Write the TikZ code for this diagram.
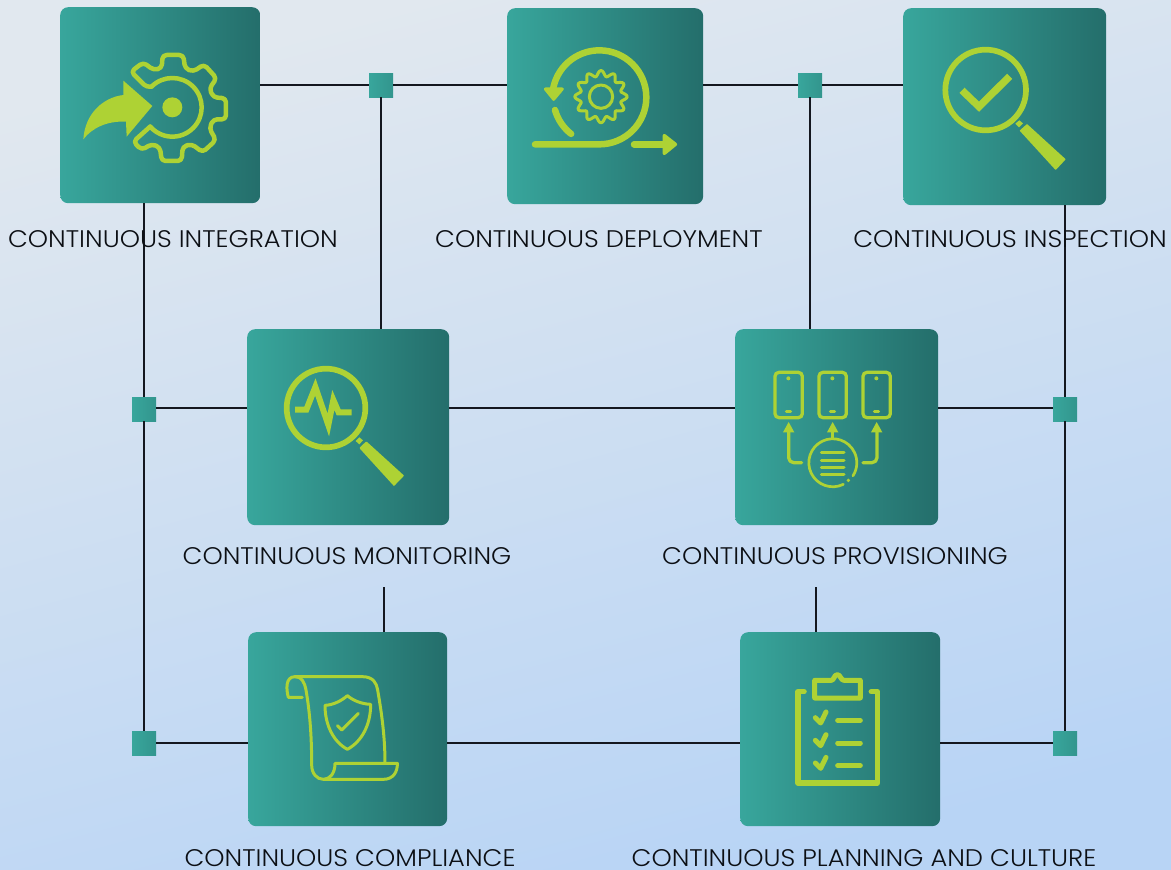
\documentclass[tikz,border=0pt]{standalone}
\usepackage{fontspec}
\setmainfont{Poppins}[UprightFont=* Light,FakeStretch=1.072]
\definecolor{cardL}{HTML}{38A69C}
\definecolor{cardR}{HTML}{246E6B}
\definecolor{lime}{HTML}{AED234}
\definecolor{wire}{HTML}{14171F}
\definecolor{txt}{HTML}{0C0F14}
\definecolor{bgTop}{HTML}{E1E8EF}
\definecolor{bgBot}{HTML}{B8D4F5}
\tikzset{
  card/.style={rectangle,rounded corners=8pt,left color=cardL,right color=cardR,minimum width=#1,inner sep=0pt,anchor=north west},
  junction/.style={rectangle,left color=cardL,right color=cardL!70!cardR,minimum width=24pt,minimum height=24pt,inner sep=0pt},
  caption/.style={text=txt,font=\fontsize{24}{28}\selectfont,inner sep=0pt},
  wireline/.style={draw=wire,line width=1.8pt},
  ink/.style={draw=lime,line cap=round,line join=round,fill=none},
  solid ink/.style={draw=lime,fill=lime,line join=round},
}
\begin{document}
\begin{tikzpicture}[x=1pt,y=1pt,yscale=-1]
\useasboundingbox (0,0) rectangle (1171,870);
\shade[shading=axis,top color=bgTop,bottom color=bgBot,shading angle=15] (0,0) rectangle (1171,870);

% cards
\node[card=200pt,minimum height=196pt] (ci) at (60,7) {};
\node[card=196pt,minimum height=196pt] (cd) at (507,8) {};
\node[card=203pt,minimum height=197pt] (ins) at (903,8) {};
\node[card=202pt,minimum height=196pt] (mon) at (247,329) {};
\node[card=203pt,minimum height=196pt] (pro) at (735,329) {};
\node[card=199pt,minimum height=194pt] (com) at (248,632) {};
\node[card=200pt,minimum height=194pt] (pla) at (740,632) {};

% junctions
\node[junction] (j1) at (381,85) {};
\node[junction] (j2) at (810,85) {};
\node[junction] (j3) at (144,409) {};
\node[junction] (j4) at (1065,409) {};
\node[junction] (j5) at (144,743) {};
\node[junction] (j6) at (1065,743) {};
\coordinate (s1) at (384,587);
\coordinate (s2) at (816,587);
\coordinate (rowb) at (0,408);
\coordinate (ciout) at (144,203);
\coordinate (insout) at (1065,205);

% connectors
\draw[wireline] (ci.east |- j1) -- (j1);
\draw[wireline] (j1) -- (cd.west |- j1);
\draw[wireline] (cd.east |- j2) -- (j2);
\draw[wireline] (j2) -- (ins.west |- j2);
\draw[wireline] (j1) -- (j1 |- mon.north);
\draw[wireline] (j2) -- (j2 |- pro.north);
\draw[wireline] (ciout) -- (j3);
\draw[wireline] (j3) -- (j5);
\draw[wireline] (insout) -- (j4);
\draw[wireline] (j4) -- (j6);
\draw[wireline] (j3.east |- rowb) -- (mon.west |- rowb);
\draw[wireline] (mon.east |- rowb) -- (pro.west |- rowb);
\draw[wireline] (pro.east |- rowb) -- (j4.west |- rowb);
\draw[wireline] (j5) -- (com.west |- j5);
\draw[wireline] (com.east |- j5) -- (pla.west |- j5);
\draw[wireline] (pla.east |- j6) -- (j6);
\draw[wireline] (s1) -- (s1 |- com.north);
\draw[wireline] (s2) -- (s2 |- pla.north);

% captions
\node[caption] (tci) at (173,239) {CONTINUOUS INTEGRATION};
\node[caption] (tcd) at (599,239) {CONTINUOUS DEPLOYMENT};
\node[caption] (tin) at (1010,239) {CONTINUOUS INSPECTION};
\node[caption] (tmo) at (347,556) {CONTINUOUS MONITORING};
\node[caption] (tpr) at (835,556) {CONTINUOUS PROVISIONING};
\node[caption] (tco) at (350,858) {CONTINUOUS COMPLIANCE};
\node[caption] (tpl) at (864,858) {CONTINUOUS PLANNING AND CULTURE};

% icon: integration
\begin{scope}[shift={(50,0)},scale=1/3]
\fill[lime] (100,418) .. controls (105,340) and (160,292) .. (220,285) -- (220,242) -- (307,318) -- (230,410) -- (228,365) .. controls (170,362) and (125,385) .. (100,418) -- cycle;
\fill[lime] (367,322) circle[radius=30];
\draw[ink,line width=4.5pt,rounded corners=4pt] (300.6,379.7) -- (250,425) -- (275,450) -- (305,432) -- (330,442) -- (335,483) -- (395,483) -- (398,440) -- (425,432) -- (458,457) -- (498,420) -- (478,385) -- (490,358) -- (528,358) -- (528,295) -- (490,292) -- (478,265) -- (500,235) -- (462,193) -- (430,215) -- (405,205) -- (400,165) -- (338,165) -- (335,205) -- (310,210) -- (280,187) -- (243,215) -- (290,262) -- (304.8,259.8);
\draw[ink,line width=4.5pt] (304.8,259.8) arc[start angle=-135,end angle=139,radius=88];
\end{scope}

% icon: deployment
\begin{scope}[shift={(500,0)},scale=1/3]
\draw[ink,line width=6.5pt] (105,433) -- (298,433) arc[start angle=90,end angle=-173,radius=141];
\draw[solid ink,line width=3pt] (136,267) -- (187,267) -- (161,298) -- cycle;
\draw[ink,line width=6.5pt] (165,330) arc[start angle=164,end angle=128,radius=140];
\draw[ink,line width=6.5pt] (402,433) -- (515,433);
\draw[solid ink,line width=3.5pt] (493,407) -- (526,433) -- (493,460) -- cycle;
\draw[ink,line width=3pt] (303,290) circle[radius=35];
\draw[ink,line width=3pt] plot[domain=0:360,samples=121,smooth] ({303+(70+8.5*cos(12*\x))*cos(\x)},{290+(70+8.5*cos(12*\x))*sin(\x)});
\end{scope}

% icon: inspection
\begin{scope}[shift={(900,5)},scale=1/3]
\draw[draw=lime,line width=5.7pt] (257,255) circle[radius=121];
\draw[draw=lime,line width=7.3pt,miter limit=10] (186,256) -- (237,305) -- (329,214);
\fill[lime] (346,356) -- (358,346) -- (369,355) -- (357,367) -- cycle;
\draw[solid ink,line width=1.5pt] (362,377) -- (381,360) -- (494,463) -- (467,492) -- cycle;
\end{scope}

% icon: monitoring
\begin{scope}[shift={(245,325)},scale=1/3]
\draw[draw=lime,line width=5.7pt] (243,249) circle[radius=118];
\draw[draw=lime,line width=6pt,miter limit=20] (150,254) -- (184,254) -- (211,186) -- (250,300) -- (265,225) -- (281,262) -- (320,262);
\fill[lime] (332,348) -- (343,337) -- (354,346) -- (343,358) -- cycle;
\draw[solid ink,line width=1.5pt] (346,369) -- (364,352) -- (474,452) -- (447,480) -- cycle;
\end{scope}

% icon: provisioning
\begin{scope}[shift={(730,325)},scale=1/3]
\foreach \px in {135,267,399}{
  \draw[draw=lime,line width=3.3pt,rounded corners=4pt] (\px,142) rectangle ++(82,136);
  \fill[lime] ({\px+40},160) circle[radius=6];
  \draw[ink,line width=3pt] ({\px+34},259) -- ({\px+47},259);
}
\draw[ink,line width=3.3pt,rounded corners=5pt] (215,413) -- (176,413) -- (176,318);
\draw[ink,line width=3.3pt] (308,340) -- (308,318);
\draw[ink,line width=3.3pt,rounded corners=5pt] (399,413) -- (441,413) -- (441,318);
\fill[lime] (159,322) -- (176,291) -- (193,322) -- cycle;
\fill[lime] (291,322) -- (308,291) -- (325,322) -- cycle;
\fill[lime] (423,322) -- (440,291) -- (457,322) -- cycle;
\draw[ink,line width=2.7pt] (340,478) arc[start angle=64,end angle=393,radius=72];
\fill[lime] (355,466) circle[radius=5.5];
\foreach \ly in {383,405,427,449}{
  \draw[ink,line width=3pt] (274,\ly) -- (342,\ly);
}
\end{scope}

% icon: compliance
\begin{scope}[shift={(245,630)},scale=1/3]
\begin{scope}[ink,line width=3pt]
\draw (172,202) -- (130,202) .. controls (124,180) and (120,140) .. (150,140) -- (352,140) .. controls (385,140) and (395,160) .. (398,180) .. controls (410,250) and (420,320) .. (420,400);
\draw (150,140) .. controls (170,140) and (178,155) .. (183,180) .. controls (195,250) and (200,320) .. (200,405) .. controls (200,430) and (215,448) .. (235,448) -- (415,448) .. controls (445,448) and (458,425) .. (457,400) -- (270,400) .. controls (270,430) and (255,448) .. (235,448);
\draw (307,197) .. controls (290,212) and (265,225) .. (240,226) .. controls (240,285) and (265,335) .. (307,358) .. controls (350,335) and (377,285) .. (377,223) .. controls (350,222) and (325,212) .. (307,197) -- cycle;
\draw (277,287) -- (290,300) -- (340,250);
\end{scope}
\end{scope}

% icon: planning
\begin{scope}[shift={(738,630)},scale=1/3]
\draw[ink,line width=5.5pt] (198,185) -- (180,185) -- (180,459) -- (418,459) -- (418,185) -- (400,185);
\draw[ink,line width=5pt] (230,151) -- (280,151) .. controls (288,151) and (288,134) .. (298,134) .. controls (308,134) and (308,151) .. (318,151) -- (367,151) -- (367,204) -- (230,204) -- cycle;
\foreach \dy in {0,68,136}{
  \draw[ink,line width=5pt] (232,263+\dy) -- (248,279+\dy) -- (264,246+\dy);
  \draw[ink,line width=5pt] (299,271+\dy) -- (367,271+\dy);
}
\end{scope}
\end{tikzpicture}
\end{document}
